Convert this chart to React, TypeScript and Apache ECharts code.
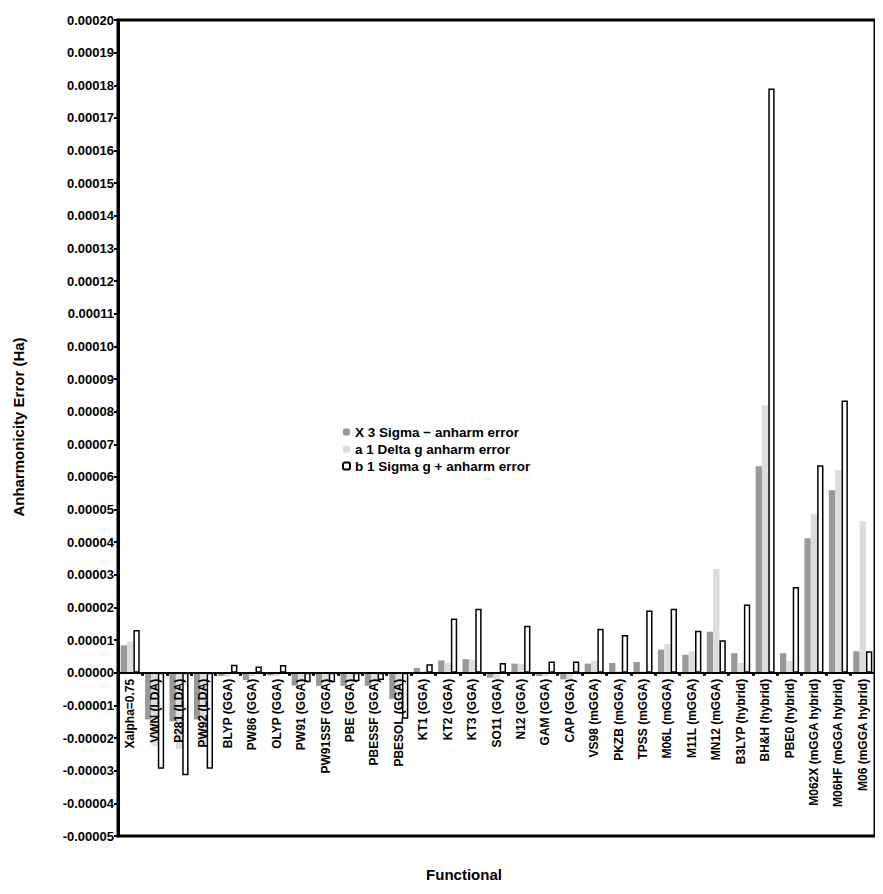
import React, { useEffect, useRef } from "react";
import * as echarts from "echarts";

const categories = [
  "Xalpha=0.75", "VWN (LDA)", "P281 (LDA)", "PW92 (LDA)", "BLYP (GGA)", "PW86 (GGA)",
  "OLYP (GGA)", "PW91 (GGA)", "PW91SSF (GGA)", "PBE (GGA)", "PBESSF (GGA)", "PBESOL (GGA)",
  "KT1 (GGA)", "KT2 (GGA)", "KT3 (GGA)", "SO11 (GGA)", "N12 (GGA)", "GAM (GGA)", "CAP (GGA)",
  "VS98 (mGGA)", "PKZB (mGGA)", "TPSS (mGGA)", "M06L (mGGA)", "M11L (mGGA)", "MN12 (mGGA)",
  "B3LYP (hybrid)", "BH&H (hybrid)", "PBE0 (hybrid)", "M062X (mGGA hybrid)",
  "M06HF (mGGA hybrid)", "M06 (mGGA hybrid)",
];

const seriesNames = [
  "X 3 Sigma \u2212 anharm error",
  "a 1 Delta g anharm error",
  "b 1 Sigma g + anharm error",
];

const sigmaMinus = [
  8.4e-6, -1.43e-5, -1.49e-5, -1.43e-5, -1.0e-6, -2.2e-6, -8e-7, -3.9e-6, -4.0e-6, -4.0e-6,
  -4.0e-6, -8.0e-6, 1.5e-6, 3.8e-6, 4.2e-6, -1.5e-6, 2.8e-6, -1.0e-6, -2.0e-6, 2.8e-6,
  3.0e-6, 3.3e-6, 7.1e-6, 5.5e-6, 1.26e-5, 6.0e-6, 6.33e-5, 6.0e-6, 4.12e-5, 5.59e-5, 6.6e-6,
];

const deltaG = [
  9.6e-6, -2.25e-5, -2.33e-5, -2.25e-5, -1.2e-6, -1.0e-6, -1.0e-6, -3.0e-6, -3.0e-6, -3.0e-6,
  -3.0e-6, -7.5e-6, 5e-7, 3.1e-6, 4.0e-6, -2.0e-6, 2.7e-6, -1.0e-6, -2.0e-6, 3.7e-6,
  5e-7, 5e-7, 8.8e-6, 6.6e-6, 3.18e-5, 3.0e-6, 8.2e-5, 3.6e-6, 4.86e-5, 6.21e-5, 4.64e-5,
];

const sigmaPlus = [
  1.31e-5, -2.94e-5, -3.14e-5, -2.94e-5, 2.5e-6, 1.9e-6, 2.4e-6, -2.9e-6, -2.9e-6, -2.6e-6,
  -2.2e-6, -1.41e-5, 2.6e-6, 1.66e-5, 1.96e-5, 3.0e-6, 1.44e-5, 3.5e-6, 3.5e-6, 1.35e-5,
  1.16e-5, 1.91e-5, 1.96e-5, 1.29e-5, 1.0e-5, 2.09e-5, 1.79e-4, 2.63e-5, 6.36e-5, 8.34e-5, 6.6e-6,
];

const yMin = -0.00005;
const yMax = 0.0002;
const yInterval = 0.00001;

const FONT = "'Liberation Sans', Arial, sans-serif";

const GRID_TOP = 20;
const GRID_BOTTOM = 58;
const CHART_H = 894;

export default function App() {
  const ref = useRef<HTMLDivElement>(null);

  useEffect(() => {
    if (!ref.current) return;
    const chart = echarts.init(ref.current, undefined, { renderer: "svg" });
    const plotH = CHART_H - GRID_TOP - GRID_BOTTOM;
    const zeroOffset = -(plotH * (0 - yMin)) / (yMax - yMin);
    const barBase = { type: "bar" as const, barGap: "0%", barCategoryGap: "22%" };
    chart.setOption({
      animation: false,
      backgroundColor: "#ffffff",
      textStyle: { fontFamily: FONT },
      grid: {
        left: 118,
        right: 8,
        top: GRID_TOP,
        bottom: GRID_BOTTOM,
        show: true,
        borderColor: "#000",
        borderWidth: 3,
        containLabel: false,
        outerBoundsMode: "none",
      },
      legend: {
        orient: "vertical",
        left: 342,
        top: 425,
        padding: 0,
        itemWidth: 7,
        itemHeight: 7,
        itemGap: 3,
        selectedMode: false,
        textStyle: { fontFamily: FONT, fontSize: 13.5, fontWeight: "bold", color: "#000", lineHeight: 13 },
        data: seriesNames,
      },
      xAxis: {
        type: "category",
        data: categories,
        position: "bottom",
        offset: zeroOffset,
        z: 5,
        axisLine: { onZero: false, lineStyle: { color: "#000", width: 2 } },
        axisTick: { show: true, interval: 0, length: 3, lineStyle: { color: "#000", width: 3 } },
        axisLabel: {
          interval: 0,
          rotate: 90,
          margin: 6,
          fontFamily: FONT,
          fontSize: 12,
          fontWeight: "bold",
          color: "#000",
          hideOverlap: false,
        },
        splitLine: { show: false },
      },
      yAxis: {
        type: "value",
        min: yMin,
        max: yMax,
        interval: yInterval,
        z: 5,
        axisLine: { show: true, lineStyle: { color: "#000", width: 3 } },
        axisTick: { show: true, inside: false, length: 4, lineStyle: { color: "#000", width: 2 } },
        axisLabel: {
          margin: 4,
          fontFamily: FONT,
          fontSize: 13,
          fontWeight: "bold",
          color: "#000",
          formatter: (v: number) => v.toFixed(5),
        },
        splitLine: { show: false },
      },
      graphic: [
        {
          type: "text",
          x: 18,
          y: 427,
          rotation: Math.PI / 2,
          style: {
            text: "Anharmonicity Error (Ha)",
            fontFamily: FONT,
            fontSize: 15,
            fontWeight: "bold",
            fill: "#000",
            textAlign: "center",
            textVerticalAlign: "middle",
          },
        },
        {
          type: "text",
          x: 464,
          y: 874,
          style: {
            text: "Functional",
            fontFamily: FONT,
            fontSize: 15,
            fontWeight: "bold",
            fill: "#000",
            textAlign: "center",
            textVerticalAlign: "middle",
          },
        },
      ],
      series: [
        {
          ...barBase,
          name: seriesNames[0],
          data: sigmaMinus,
          itemStyle: { color: "#999999" },
        },
        {
          ...barBase,
          name: seriesNames[1],
          data: deltaG,
          itemStyle: { color: "#dddddd" },
        },
        {
          ...barBase,
          name: seriesNames[2],
          data: sigmaPlus,
          itemStyle: { color: "#ffffff", borderColor: "#000", borderWidth: 1.5 },
        },
      ],
    });
    return () => chart.dispose();
  }, []);

  return <div ref={ref} style={{ width: 883, height: CHART_H, margin: -8 }} />;
}
